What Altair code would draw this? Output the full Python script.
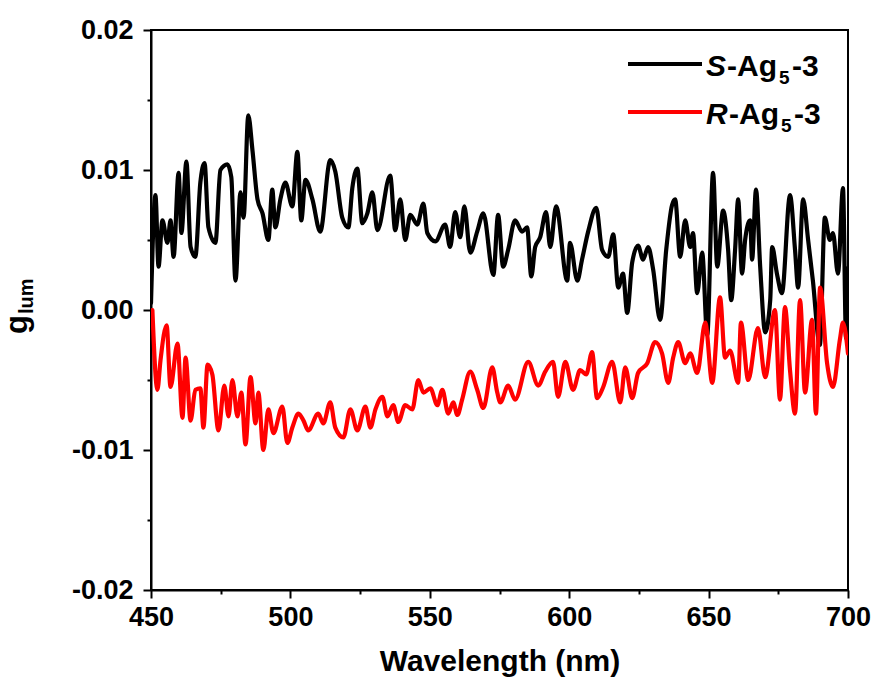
import altair as alt
import pandas as pd

# ---- data ----
s_wl = [450.0, 451.6, 452.7, 454.1, 455.9, 457.0, 458.1, 459.9, 460.9, 462.7, 464.2, 465.9, 467.7, 469.2,
        470.6, 473.1, 474.9, 477.4, 478.8, 480.3, 482.1, 483.2, 484.9, 486.4, 488.2, 490.0, 492.1, 493.5,
        494.6, 496.4, 498.2, 500.7, 502.5, 503.9, 505.4, 507.9, 510.7, 514.3, 516.1, 518.6, 520.8, 522.2,
        524.0, 525.8, 527.6, 529.4, 531.2, 535.8, 537.6, 539.4, 541.2, 543.0, 545.5, 547.7, 549.1, 552.0,
        555.5, 557.3, 559.1, 560.9, 562.4, 564.5, 567.0, 569.2, 572.8, 574.5, 576.3, 578.1, 580.6, 583.1,
        584.9, 586.4, 587.8, 589.6, 591.7, 593.2, 595.3, 599.3, 600.3, 602.9, 604.6, 606.8, 609.7, 611.8,
        614.0, 615.8, 617.6, 619.3, 620.8, 622.6, 624.7, 626.5, 628.3, 630.1, 632.6, 634.8, 636.9, 638.0,
        639.8, 641.6, 643.4, 644.4, 645.9, 647.7, 649.5, 651.6, 653.1, 655.2, 657.0, 658.1, 659.5, 660.6,
        662.0, 663.1, 664.9, 665.6, 667.0, 668.5, 670.3, 672.1, 672.8, 674.5, 676.3, 679.2, 681.0, 682.1,
        683.9, 685.7, 687.4, 689.9, 691.7, 693.5, 694.6, 696.4, 698.2, 699.3, 700.0]
s_g = [0.5, 8.2, 3.1, 6.4, 4.8, 6.4, 3.8, 9.8, 5.5, 10.6, 4.5, 3.8, 9.1, 10.5,
       5.9, 4.8, 10.0, 10.4, 9.5, 2.1, 8.4, 6.6, 13.9, 11.4, 7.9, 6.9, 5.0, 8.6,
       5.9, 7.9, 9.1, 7.4, 11.3, 6.4, 9.3, 7.9, 5.6, 10.7, 9.9, 6.6, 5.9, 8.7,
       10.1, 6.2, 6.9, 8.4, 5.7, 9.6, 5.7, 7.9, 5.0, 6.8, 6.1, 7.6, 5.5, 4.9,
       6.1, 4.5, 7.0, 5.2, 7.4, 4.1, 5.6, 6.9, 2.5, 6.8, 3.1, 4.3, 6.4, 5.6,
       5.9, 2.4, 4.5, 5.2, 7.0, 4.5, 7.4, 2.1, 4.8, 2.1, 3.6, 5.6, 7.3, 4.3,
       3.8, 5.4, 1.6, 2.6, -0.2, 3.4, 4.6, 3.6, 4.5, 2.9, -0.7, 4.3, 7.5, 7.9,
       3.8, 6.4, 4.5, 5.5, 1.2, 4.1, -1.8, 9.8, 3.1, 7.1, 4.3, 0.7, 4.3, 7.9,
       2.6, 5.0, 6.4, 3.6, 8.6, 3.1, -1.6, 0.7, 4.5, 2.6, 1.2, 8.2, 4.3, 1.6,
       7.9, 5.0, 2.1, -2.5, 6.6, 5.0, 5.5, 2.6, 8.7, -2.0, 3.0]

r_wl = [450.5, 452.3, 453.4, 455.6, 457.0, 459.5, 461.3, 462.4, 464.2, 465.9, 467.7, 468.8, 470.3, 472.0,
        474.2, 476.3, 477.8, 479.2, 481.0, 482.4, 483.9, 485.7, 487.5, 488.5, 490.3, 492.1, 493.9, 497.1,
        498.9, 500.7, 502.9, 504.7, 506.4, 510.0, 511.8, 514.3, 516.1, 519.0, 521.5, 524.0, 526.9, 528.7,
        530.5, 533.0, 534.8, 536.9, 538.7, 541.2, 543.7, 545.9, 547.7, 550.2, 552.7, 554.5, 556.6, 558.4,
        559.9, 561.6, 564.5, 567.0, 569.2, 572.4, 574.2, 575.3, 578.1, 580.6, 585.3, 588.9, 591.4, 594.2,
        596.0, 598.6, 601.4, 603.9, 606.1, 608.2, 610.0, 612.2, 615.4, 618.3, 620.1, 622.6, 624.7, 628.0,
        630.8, 633.3, 635.5, 637.3, 639.1, 641.6, 643.4, 645.9, 648.8, 651.3, 654.1, 655.9, 657.7, 660.6,
        661.6, 664.2, 667.7, 670.3, 673.8, 675.6, 677.4, 679.2, 681.0, 682.8, 684.6, 687.1, 688.5, 690.0,
        692.5, 694.6, 697.1, 698.2, 700.0]
r_g = [0.0, -5.7, -3.6, -1.1, -5.5, -2.4, -7.7, -3.4, -7.9, -5.7, -5.6, -8.4, -3.9, -4.6,
       -8.6, -5.4, -7.6, -5.0, -7.6, -5.9, -9.6, -4.8, -8.1, -5.9, -10.0, -7.1, -8.8, -6.9,
       -9.5, -8.4, -7.4, -7.9, -8.6, -7.4, -8.1, -6.6, -8.4, -9.1, -7.1, -8.6, -6.9, -8.4,
       -7.1, -6.2, -7.6, -6.8, -8.0, -6.8, -7.1, -5.0, -5.9, -5.6, -6.8, -5.7, -7.4, -6.6,
       -7.5, -6.4, -4.4, -5.7, -7.0, -4.1, -5.9, -6.6, -5.4, -6.4, -3.7, -5.4, -4.4, -3.7,
       -6.2, -3.7, -5.7, -4.3, -4.6, -3.0, -6.3, -5.5, -3.7, -6.6, -4.1, -6.3, -4.5, -3.8,
       -2.3, -3.1, -5.2, -3.4, -2.3, -3.8, -3.1, -4.5, -0.9, -5.2, 0.9, -3.4, -2.9, -5.2,
       -0.9, -5.0, -1.3, -4.8, 0.0, -6.4, 0.2, -4.3, -7.4, 0.7, -5.9, -0.7, -7.4, 1.6,
       -3.8, -5.5, -2.1, -0.9, -3.1]

y_ticks = [-0.02, -0.015, -0.01, -0.005, 0.0, 0.005, 0.01, 0.015, 0.02]
x_ticks = [450, 475, 500, 525, 550, 575, 600, 625, 650, 675, 700]

df = pd.concat([
    pd.DataFrame({"wl": s_wl, "g": [v / 1000 for v in s_g], "series": "S", "order": 0}),
    pd.DataFrame({"wl": r_wl, "g": [v / 1000 for v in r_g], "series": "R", "order": 1}),
])

FONT = "Liberation Sans"

x_enc = alt.X("wl:Q", scale=alt.Scale(domain=[450, 700], nice=False, zero=False),
              axis=alt.Axis(values=x_ticks, title="Wavelength (nm)",
                            labelExpr="datum.value % 50 == 0 ? datum.value : ''",
                            tickSize={"condition": {"test": "datum.value % 50 != 0", "value": 4}, "value": 8},
                            labelPadding=6, titlePadding=16, labelFlush=False))
y_enc = alt.Y("g:Q", scale=alt.Scale(domain=[-0.02, 0.02], nice=False, zero=False),
              axis=alt.Axis(values=y_ticks, title=None,
                            labelExpr="abs(round(datum.value*1000)) % 10 == 0 ? (datum.value < -0.0001 ? '-' : '') + format(abs(datum.value), '.2f') : ''",
                            tickSize={"condition": {"test": "abs(round(datum.value*1000)) % 10 != 0", "value": 4}, "value": 8},
                            labelPadding=10, labelFlush=False))

lines = alt.Chart(df).mark_line(strokeWidth=4.2, clip=True, interpolate="monotone",
                                strokeJoin="round", strokeCap="round").encode(
    x=x_enc, y=y_enc,
    color=alt.Color("series:N", scale=alt.Scale(domain=["S", "R"], range=["#000000", "#ff0000"]), legend=None),
    order=alt.Order("order:Q"),
    detail="series:N",
)

# legend built from marks
leg_df = pd.DataFrame({"k": [0]})
def leg_line(yv, col):
    return alt.Chart(leg_df).mark_rule(color=col, strokeWidth=4).encode(
        x=alt.value(477), x2=alt.value(551), y=alt.value(yv))

def txt(text, xv, yv, size=30, style="normal", weight="bold", angle=0):
    return alt.Chart(leg_df).mark_text(text=text, font=FONT, fontSize=size, fontStyle=style,
                                       fontWeight=weight, align="left", baseline="alphabetic",
                                       angle=angle, color="black").encode(
        x=alt.value(xv), y=alt.value(yv))

legend = [
    leg_line(34, "#000000"), leg_line(82, "#ff0000"),
    txt("S", 555, 46, style="italic"), txt("-Ag", 576, 46), txt("5", 628, 54, size=19), txt("-3", 641, 46),
    txt("R", 555, 94, style="italic"), txt("-Ag", 578, 94), txt("5", 630, 102, size=19), txt("-3", 643, 94),
    txt("g", -124, 304, size=31, weight="bold", angle=270),
    txt("lum", -118, 284, size=20, weight="bold", angle=270),
]

chart = alt.layer(lines, *legend).properties(
    width=697, height=560,
    padding={"left": 151, "top": 30, "right": 29, "bottom": 96},
    autosize=alt.AutoSizeParams(type="none"),
    background="white",
).configure_view(stroke="black", strokeWidth=2).configure_axis(
    labelFont=FONT, labelFontSize=27, labelFontWeight="bold", labelColor="black",
    titleFont=FONT, titleFontSize=30, titleFontWeight="bold", titleColor="black",
    domainColor="black", domainWidth=2, tickColor="black", tickWidth=2, grid=False,
)

chart.save("out.html", embed_options={"renderer": "svg", "actions": False})
